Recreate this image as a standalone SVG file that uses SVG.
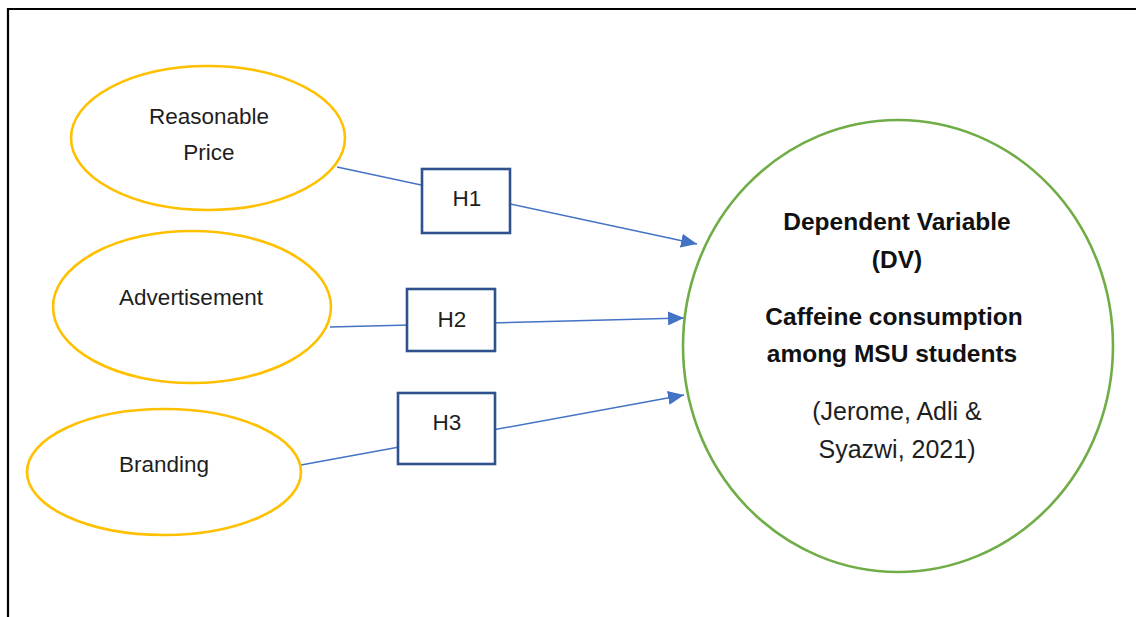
<svg xmlns="http://www.w3.org/2000/svg" width="1136" height="617" viewBox="0 0 1136 617">
<style>
.iv{fill:#fff;stroke:#FFC000;stroke-width:2.6}
.hb{fill:#fff;stroke:#2F528F;stroke-width:2.6}
.dv{fill:#fff;stroke:#70AD47;stroke-width:2.6}
.lbl{font-family:"Liberation Sans",Arial,sans-serif;font-size:22.5px;fill:#1e1e1e;text-anchor:middle}
.b{font-weight:bold;font-size:24.5px;fill:#111}
.ref{font-size:25px}
.cn{stroke:#4472C4;stroke-width:1.5;fill:none}
</style>
<defs>
<marker id="ah" viewBox="0 0 16 14" refX="16" refY="7" markerWidth="16" markerHeight="14" markerUnits="userSpaceOnUse" orient="auto">
<path d="M0,0 L16,7 L0,14 Z" fill="#4472C4"/>
</marker>
</defs>
<path d="M8,617 V9 H1136" fill="none" stroke="#000" stroke-width="2.2"/>
<g id="connectors">
<line class="cn" x1="337" y1="167" x2="697" y2="244" marker-end="url(#ah)"/>
<line class="cn" x1="330" y1="327" x2="684" y2="318" marker-end="url(#ah)"/>
<line class="cn" x1="301" y1="465" x2="684" y2="395" marker-end="url(#ah)"/>
</g>
<g id="reasonable-price">
<ellipse class="iv" cx="208" cy="138" rx="137" ry="72"/>
<text class="lbl" x="209" y="124">Reasonable</text>
<text class="lbl" x="209" y="160">Price</text>
</g>
<g id="advertisement">
<ellipse class="iv" cx="192" cy="307" rx="139" ry="76"/>
<text class="lbl" x="191" y="305">Advertisement</text>
</g>
<g id="branding">
<ellipse class="iv" cx="164" cy="472" rx="137" ry="63"/>
<text class="lbl" x="164" y="472">Branding</text>
</g>
<g id="h1">
<rect class="hb" x="422" y="169" width="88" height="64"/>
<text class="lbl" x="467" y="206">H1</text>
</g>
<g id="h2">
<rect class="hb" x="407" y="289" width="88" height="62"/>
<text class="lbl" x="452" y="327">H2</text>
</g>
<g id="h3">
<rect class="hb" x="398" y="393" width="97" height="71"/>
<text class="lbl" x="447" y="430">H3</text>
</g>
<g id="dependent-variable">
<ellipse class="dv" cx="898" cy="346" rx="215" ry="226"/>
<text class="lbl b" x="897" y="230">Dependent Variable</text>
<text class="lbl b" x="897" y="268">(DV)</text>
<text class="lbl b" x="894" y="325">Caffeine consumption</text>
<text class="lbl b" x="892" y="362">among MSU students</text>
<text class="lbl ref" x="897" y="420">(Jerome, Adli &amp;</text>
<text class="lbl ref" x="897" y="458">Syazwi, 2021)</text>
</g>
</svg>
